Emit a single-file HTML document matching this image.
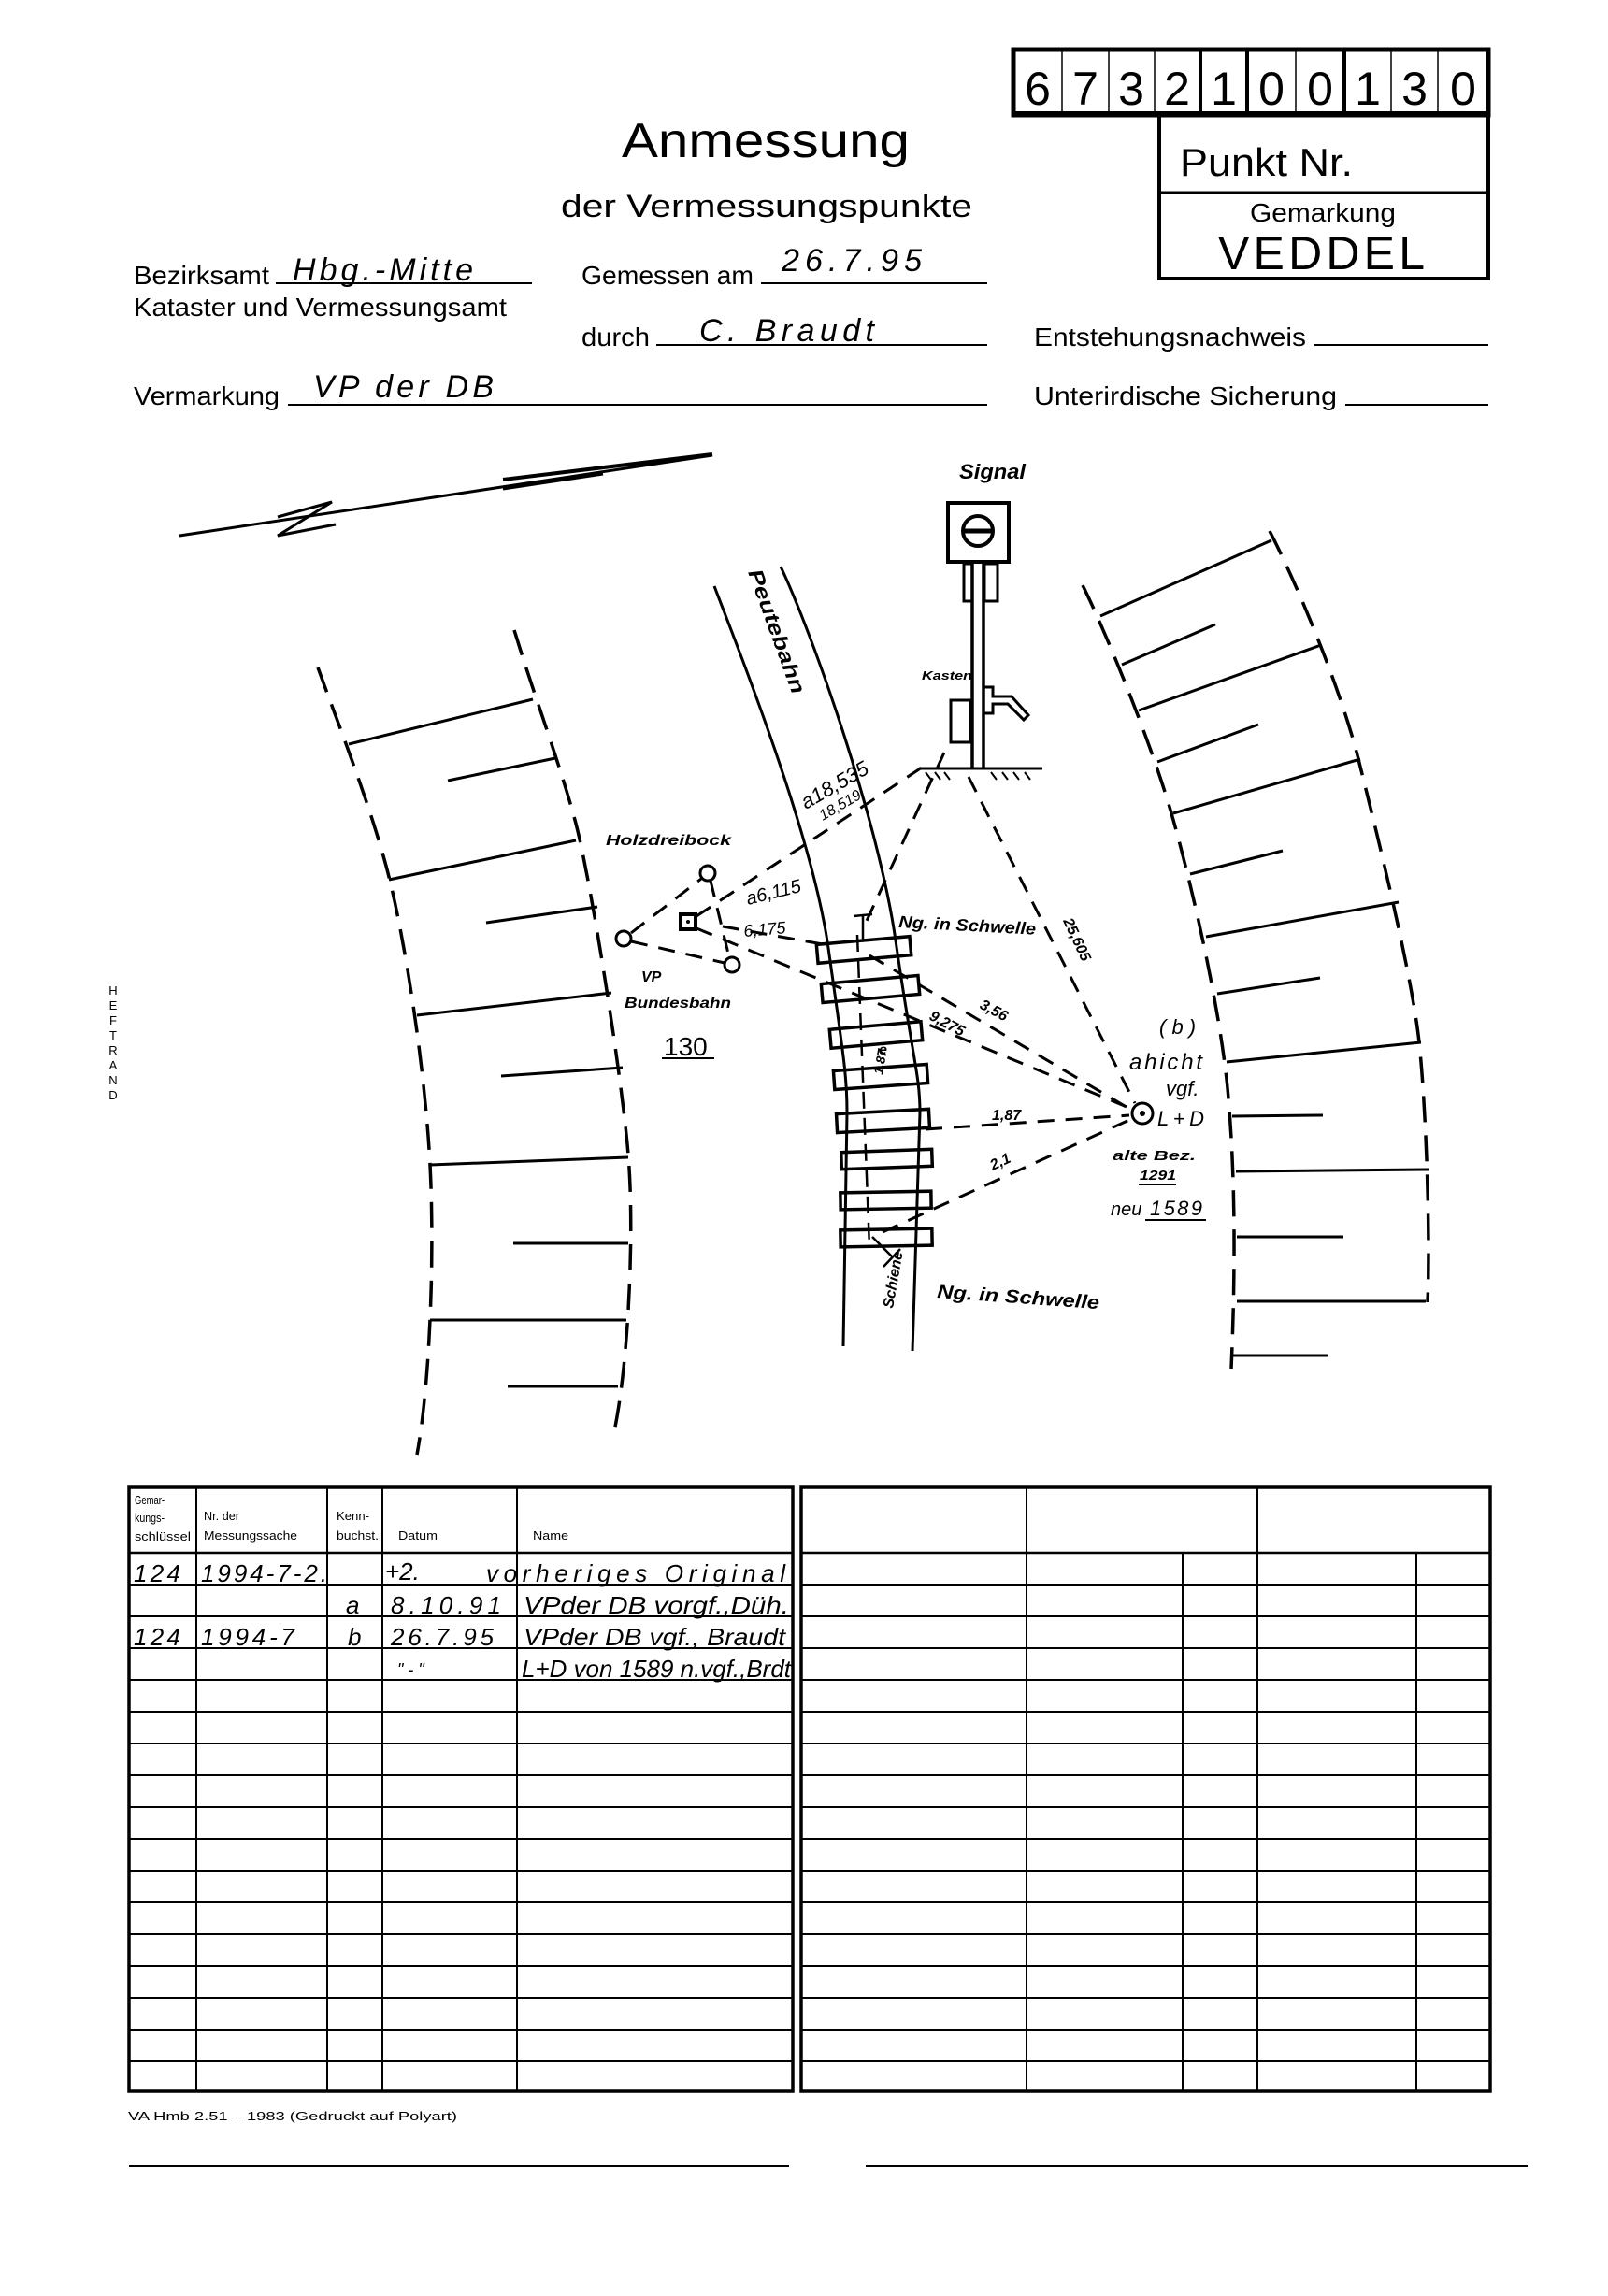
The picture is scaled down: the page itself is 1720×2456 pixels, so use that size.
<!DOCTYPE html>
<html><head><meta charset="utf-8"><style>
html,body{margin:0;padding:0;background:#fff}
svg{display:block}
.p{font-family:"Liberation Sans",sans-serif;fill:#000}
.h{font-family:"Liberation Sans",sans-serif;font-style:italic;fill:#000}
.b{font-family:"Liberation Sans",sans-serif;font-style:italic;font-weight:bold;fill:#000}
</style></head><body>
<svg width="1720" height="2456" viewBox="0 0 1720 2456" xmlns="http://www.w3.org/2000/svg">
<rect width="1720" height="2456" fill="#fff"/>
<!-- Number box -->
<g stroke="#000" fill="none">
<rect x="1084" y="53" width="508" height="70" stroke-width="5"/>
<line x1="1084" y1="122" x2="1592" y2="122" stroke-width="6"/>
<g stroke-width="1.5">
<line x1="1136" y1="55" x2="1136" y2="120"/><line x1="1186" y1="55" x2="1186" y2="120"/>
<line x1="1235" y1="55" x2="1235" y2="120"/><line x1="1386" y1="55" x2="1386" y2="120"/>
<line x1="1488" y1="55" x2="1488" y2="120"/><line x1="1538" y1="55" x2="1538" y2="120"/>
</g>
<g stroke-width="4"><line x1="1284" y1="55" x2="1284" y2="120"/><line x1="1334" y1="55" x2="1334" y2="120"/><line x1="1438" y1="55" x2="1438" y2="120"/></g>
<rect x="1240" y="123" width="352" height="175" stroke-width="4"/>
<line x1="1240" y1="206" x2="1592" y2="206" stroke-width="3"/>
</g>
<g class="p" font-size="50" text-anchor="middle">
<text x="1110" y="112">6</text><text x="1161" y="112">7</text><text x="1210" y="112">3</text><text x="1259" y="112">2</text><text x="1309" y="112">1</text><text x="1360" y="112">0</text><text x="1412" y="112">0</text><text x="1463" y="112">1</text><text x="1513" y="112">3</text><text x="1565" y="112">0</text>
</g>
<text class="p" x="1262" y="188" font-size="42" textLength="185" lengthAdjust="spacingAndGlyphs">Punkt Nr.</text>
<text class="p" x="1337" y="237" font-size="28" textLength="156" lengthAdjust="spacingAndGlyphs">Gemarkung</text>
<text class="p" x="1303" y="288" font-size="50" textLength="221" lengthAdjust="spacing">VEDDEL</text>
<text class="p" x="665" y="168" font-size="52" textLength="308" lengthAdjust="spacingAndGlyphs">Anmessung</text>
<text class="p" x="600" y="232" font-size="34" textLength="440" lengthAdjust="spacingAndGlyphs">der Vermessungspunkte</text>
<g class="p" font-size="28">
<text x="143" y="304" textLength="145" lengthAdjust="spacingAndGlyphs">Bezirksamt</text>
<text x="143" y="338" textLength="399" lengthAdjust="spacingAndGlyphs">Kataster und Vermessungsamt</text>
<text x="622" y="304" textLength="184" lengthAdjust="spacingAndGlyphs">Gemessen am</text>
<text x="622" y="370" textLength="73" lengthAdjust="spacingAndGlyphs">durch</text>
<text x="1106" y="370" textLength="291" lengthAdjust="spacingAndGlyphs">Entstehungsnachweis</text>
<text x="143" y="433" textLength="156" lengthAdjust="spacingAndGlyphs">Vermarkung</text>
<text x="1106" y="433" textLength="324" lengthAdjust="spacingAndGlyphs">Unterirdische Sicherung</text>
</g>
<g stroke="#000" stroke-width="2">
<line x1="295" y1="303" x2="569" y2="303"/><line x1="814" y1="303" x2="1056" y2="303"/>
<line x1="702" y1="369" x2="1056" y2="369"/><line x1="1406" y1="369" x2="1592" y2="369"/>
<line x1="308" y1="433" x2="1056" y2="433"/><line x1="1439" y1="433" x2="1592" y2="433"/>
</g>
<g class="h" font-size="34">
<text x="313" y="300" textLength="193" lengthAdjust="spacing">Hbg.-Mitte</text>
<text x="836" y="290" textLength="150" lengthAdjust="spacing">26.7.95</text>
<text x="748" y="365" textLength="187" lengthAdjust="spacing">C. Braudt</text>
<text x="335" y="425" textLength="193" lengthAdjust="spacing">VP der DB</text>
</g>
<!-- HEFTRAND -->
<g class="p" font-size="13" text-anchor="middle">
<text x="121" y="1064">H</text><text x="121" y="1080">E</text><text x="121" y="1096">F</text><text x="121" y="1112">T</text><text x="121" y="1128">R</text><text x="121" y="1144">A</text><text x="121" y="1160">N</text><text x="121" y="1176">D</text>
</g>
<!-- North arrow -->
<g stroke="#000" stroke-width="3" fill="none">
<line x1="192" y1="573" x2="762" y2="487"/>
<polyline points="297,553 355,537 297,573 359,561"/>
<line x1="538" y1="513" x2="762" y2="486" stroke-width="4"/>
<line x1="538" y1="523" x2="645" y2="507"/>
</g>
<!-- Hatch bands -->
<g stroke="#000" stroke-width="3.5" fill="none" stroke-dasharray="28 14">
<path d="M340,714 C360,770 400,870 418,946 S455,1150 460,1246 S460,1480 446,1556"/>
<path d="M550,674 C570,740 600,820 616,881 S665,1150 672,1235 S672,1460 657,1531"/>
<path d="M1158,626 C1180,670 1230,790 1253,870 S1305,1080 1313,1164 S1322,1350 1317,1464"/>
<path d="M1358,568 C1390,630 1435,740 1453,812 S1510,1040 1518,1115 S1530,1330 1527,1393"/>
</g>
<g stroke="#000" stroke-width="3" fill="none">
<line x1="373" y1="796" x2="570" y2="748"/><line x1="479" y1="835" x2="594" y2="811"/>
<line x1="416" y1="941" x2="616" y2="899"/><line x1="520" y1="987" x2="639" y2="970"/>
<line x1="446" y1="1086" x2="654" y2="1062"/><line x1="536" y1="1151" x2="666" y2="1142"/>
<line x1="460" y1="1246" x2="672" y2="1238"/><line x1="549" y1="1330" x2="672" y2="1330"/>
<line x1="460" y1="1412" x2="670" y2="1412"/><line x1="543" y1="1483" x2="661" y2="1483"/>
<line x1="1177" y1="659" x2="1360" y2="578"/><line x1="1200" y1="711" x2="1300" y2="668"/>
<line x1="1218" y1="760" x2="1413" y2="690"/><line x1="1238" y1="815" x2="1346" y2="775"/>
<line x1="1255" y1="870" x2="1455" y2="812"/><line x1="1273" y1="935" x2="1372" y2="910"/>
<line x1="1290" y1="1002" x2="1496" y2="965"/><line x1="1302" y1="1063" x2="1412" y2="1046"/>
<line x1="1312" y1="1136" x2="1520" y2="1115"/><line x1="1318" y1="1194" x2="1415" y2="1193"/>
<line x1="1322" y1="1253" x2="1528" y2="1251"/><line x1="1323" y1="1323" x2="1437" y2="1323"/>
<line x1="1323" y1="1392" x2="1525" y2="1392"/><line x1="1318" y1="1450" x2="1420" y2="1450"/>
</g>
<!-- Rails -->
<g stroke="#000" stroke-width="3" fill="none">
<path d="M764,627 C800,720 870,900 886,1014 S906,1150 906,1190 L902,1440"/>
<path d="M835,606 C870,680 940,880 958,1006 S984,1150 984,1190 L976,1445"/>
</g>
<!-- Sleepers -->
<g stroke="#000" stroke-width="3.5" fill="none">
<rect x="874" y="1006" width="100" height="20" transform="rotate(-5 924 1016)"/>
<rect x="879" y="1048" width="104" height="20" transform="rotate(-5 931 1058)"/>
<rect x="888" y="1097" width="98" height="20" transform="rotate(-5 937 1107)"/>
<rect x="892" y="1142" width="100" height="20" transform="rotate(-4 942 1152)"/>
<rect x="895" y="1189" width="99" height="20" transform="rotate(-3 944 1199)"/>
<rect x="900" y="1231" width="97" height="18" transform="rotate(-2 948 1240)"/>
<rect x="899" y="1275" width="97" height="18" transform="rotate(-1 948 1284)"/>
<rect x="899" y="1315" width="98" height="18" transform="rotate(-1 948 1324)"/>
</g>
<g stroke="#000" stroke-width="2.5" fill="none">
<line x1="917" y1="1000" x2="930" y2="1335" stroke-dasharray="18 10"/>
<polyline points="913,980 933,978"/><line x1="923" y1="979" x2="923" y2="1007"/>
<line x1="933" y1="1323" x2="955" y2="1345"/><line x1="945" y1="1355" x2="963" y2="1336"/>
</g>
<!-- Signal -->
<g stroke="#000" stroke-width="4" fill="none">
<rect x="1014" y="538" width="65" height="63"/>
<circle cx="1046" cy="568" r="16"/>
<line x1="1031" y1="568" x2="1061" y2="568" stroke-width="5"/>
<rect x="1031" y="603" width="9" height="40" stroke-width="3"/>
<rect x="1053" y="603" width="14" height="40" stroke-width="3"/>
<line x1="1040" y1="603" x2="1040" y2="822" stroke-width="3.5"/>
<line x1="1052" y1="603" x2="1052" y2="822" stroke-width="3.5"/>
<rect x="1017" y="749" width="21" height="45" stroke-width="3"/>
<path d="M1053,735 h9 v10 h20 l18,20 l-5,5 l-17,-17 h-16 v10 h-9" stroke-width="3"/>
<line x1="983" y1="822" x2="1115" y2="822" stroke-width="3"/>
<path d="M990,826 l6,8 M1000,826 l6,8 M1010,826 l6,8 M1060,826 l6,8 M1072,826 l6,8 M1084,826 l6,8 M1096,826 l6,8" stroke-width="2"/>
</g>
<!-- Holzdreibock -->
<g stroke="#000" stroke-width="3" fill="none">
<circle cx="757" cy="934" r="8"/><circle cx="667" cy="1004" r="8"/><circle cx="783" cy="1032" r="8"/>
<rect x="728" y="978" width="16" height="16" stroke-width="4"/>
</g>
<circle cx="736" cy="986" r="2" fill="#000"/>
<circle cx="1222" cy="1191" r="11" stroke="#000" stroke-width="3" fill="none"/>
<circle cx="1222" cy="1191" r="3" fill="#000"/>
<!-- dashed measurement lines -->
<g stroke="#000" stroke-width="3" fill="none" stroke-dasharray="18 12">
<line x1="675" y1="998" x2="750" y2="940"/>
<line x1="675" y1="1007" x2="775" y2="1030"/>
<line x1="760" y1="942" x2="780" y2="1024"/>
<line x1="745" y1="980" x2="986" y2="821"/>
<line x1="745" y1="993" x2="1210" y2="1186"/>
<line x1="773" y1="991" x2="880" y2="1010"/>
<line x1="1010" y1="805" x2="927" y2="985"/>
<line x1="1036" y1="831" x2="1214" y2="1180"/>
<line x1="930" y1="1022" x2="1208" y2="1186"/>
<line x1="990" y1="1208" x2="1208" y2="1193"/>
<line x1="944" y1="1318" x2="1208" y2="1198"/>
</g>
<!-- diagram labels -->
<g class="b">
<text x="1026" y="512" font-size="22" textLength="71" lengthAdjust="spacingAndGlyphs">Signal</text>
<text x="986" y="727" font-size="13" textLength="54" lengthAdjust="spacingAndGlyphs">Kasten</text>
<text x="648" y="904" font-size="16" textLength="134" lengthAdjust="spacingAndGlyphs">Holzdreibock</text>
<text x="686" y="1050" font-size="16">VP</text>
<text x="668" y="1078" font-size="16" textLength="114" lengthAdjust="spacingAndGlyphs">Bundesbahn</text>
<text x="961" y="992" font-size="18" textLength="147" lengthAdjust="spacingAndGlyphs" transform="rotate(3 961 992)">Ng. in Schwelle</text>
<text x="1002" y="1388" font-size="20" textLength="174" lengthAdjust="spacingAndGlyphs" transform="rotate(4 1002 1388)">Ng. in Schwelle</text>
<text x="1190" y="1241" font-size="15" textLength="89" lengthAdjust="spacingAndGlyphs">alte Bez.</text>
<text x="1219" y="1262" font-size="15" textLength="39" lengthAdjust="spacingAndGlyphs">1291</text>
<text x="0" y="0" font-size="22" textLength="140" lengthAdjust="spacingAndGlyphs" transform="translate(800,612) rotate(70)">Peutebahn</text>
<text x="0" y="0" font-size="16" transform="translate(955,1400) rotate(-80)">Schiene</text>
<text x="0" y="0" font-size="16" transform="translate(1137,985) rotate(65)">25,605</text>
<text x="0" y="0" font-size="16" transform="translate(1047,1078) rotate(28)">3,56</text>
<text x="0" y="0" font-size="16" transform="translate(993,1090) rotate(28)">9,275</text>
<text x="1061" y="1198" font-size="16">1,87</text>
<text x="0" y="0" font-size="16" transform="translate(1062,1252) rotate(-25)">2,1</text>
<text x="0" y="0" font-size="14" transform="translate(944,1150) rotate(-80)">1,87</text>
<text x="940" y="1128" font-size="16">e</text>
</g>
<g class="h">
<text x="0" y="0" font-size="22" transform="translate(862,866) rotate(-30)">a18,535</text>
<text x="0" y="0" font-size="16" transform="translate(880,878) rotate(-30)">18,519</text>
<text x="0" y="0" font-size="20" transform="translate(800,968) rotate(-14)">a6,115</text>
<text x="0" y="0" font-size="18" transform="translate(796,1002) rotate(-5)">6,175</text>
<text x="710" y="1129" font-size="28" font-style="normal">130</text>
<text x="1240" y="1106" font-size="22">( b )</text>
<text x="1208" y="1144" font-size="24" textLength="78" lengthAdjust="spacing">ahicht</text>
<text x="1247" y="1172" font-size="22">vgf.</text>
<text x="1238" y="1204" font-size="22" textLength="50" lengthAdjust="spacing">L+D</text>
<text x="1188" y="1300" font-size="20">neu</text>
<text x="1230" y="1300" font-size="22" textLength="56" lengthAdjust="spacing">1589</text>
</g>
<g stroke="#000" stroke-width="2">
<line x1="708" y1="1132" x2="764" y2="1132"/>
<line x1="1218" y1="1267" x2="1258" y2="1267"/>
<line x1="1225" y1="1305" x2="1290" y2="1305"/>
</g>
<!-- Table -->
<g stroke="#000" fill="none">
<rect x="138" y="1591" width="710" height="646" stroke-width="3.5"/>
<rect x="857" y="1591" width="737" height="646" stroke-width="3.5"/>
<g stroke-width="2">
<line x1="210" y1="1591" x2="210" y2="2237"/><line x1="350" y1="1591" x2="350" y2="2237"/>
<line x1="409" y1="1591" x2="409" y2="2237"/><line x1="553" y1="1591" x2="553" y2="2237"/>
<line x1="1098" y1="1591" x2="1098" y2="2237"/><line x1="1345" y1="1591" x2="1345" y2="2237"/>
<line x1="1265" y1="1661" x2="1265" y2="2237"/><line x1="1515" y1="1661" x2="1515" y2="2237"/>
</g>
<g stroke-width="2.5">
<line x1="138" y1="1661" x2="848" y2="1661"/><line x1="857" y1="1661" x2="1594" y2="1661"/>
</g>
<g stroke-width="2">
<path d="M138,1695H848M138,1729H848M138,1763H848M138,1797H848M138,1831H848M138,1865H848M138,1899H848M138,1933H848M138,1967H848M138,2001H848M138,2035H848M138,2069H848M138,2103H848M138,2137H848M138,2171H848M138,2205H848"/>
<path d="M857,1695H1594M857,1729H1594M857,1763H1594M857,1797H1594M857,1831H1594M857,1865H1594M857,1899H1594M857,1933H1594M857,1967H1594M857,2001H1594M857,2035H1594M857,2069H1594M857,2103H1594M857,2137H1594M857,2171H1594M857,2205H1594"/>
</g>
</g>
<g class="p" font-size="13">
<text x="144" y="1609" textLength="32" lengthAdjust="spacingAndGlyphs">Gemar-</text>
<text x="144" y="1628" textLength="32" lengthAdjust="spacingAndGlyphs">kungs-</text>
<text x="144" y="1648" textLength="60" lengthAdjust="spacingAndGlyphs">schlüssel</text>
<text x="218" y="1626" textLength="38" lengthAdjust="spacingAndGlyphs">Nr. der</text>
<text x="218" y="1647" textLength="100" lengthAdjust="spacingAndGlyphs">Messungssache</text>
<text x="360" y="1626" textLength="35" lengthAdjust="spacingAndGlyphs">Kenn-</text>
<text x="360" y="1647" textLength="45" lengthAdjust="spacingAndGlyphs">buchst.</text>
<text x="426" y="1647" textLength="42" lengthAdjust="spacingAndGlyphs">Datum</text>
<text x="570" y="1647" textLength="38" lengthAdjust="spacingAndGlyphs">Name</text>
<text x="137" y="2268" textLength="352" lengthAdjust="spacingAndGlyphs">VA Hmb 2.51 – 1983 (Gedruckt auf Polyart)</text>
</g>
<g class="h" font-size="26">
<text x="143" y="1692" textLength="50" lengthAdjust="spacing">124</text>
<text x="215" y="1692" textLength="135" lengthAdjust="spacing">1994-7-2.</text>
<text x="412" y="1690">+2.</text>
<text x="520" y="1692" textLength="320" lengthAdjust="spacing">vorheriges Original</text>
<text x="370" y="1726">a</text>
<text x="418" y="1726" textLength="118" lengthAdjust="spacing">8.10.91</text>
<text x="560" y="1726" textLength="284" lengthAdjust="spacingAndGlyphs">VPder DB vorgf.,Düh.</text>
<text x="143" y="1760" textLength="50" lengthAdjust="spacing">124</text>
<text x="215" y="1760" textLength="100" lengthAdjust="spacing">1994-7</text>
<text x="372" y="1760">b</text>
<text x="418" y="1760" textLength="110" lengthAdjust="spacing">26.7.95</text>
<text x="560" y="1760" textLength="280" lengthAdjust="spacingAndGlyphs">VPder DB vgf., Braudt</text>
<text x="425" y="1792" font-size="18">"   -   "</text>
<text x="558" y="1794" textLength="288" lengthAdjust="spacingAndGlyphs">L+D von 1589 n.vgf.,Brdt</text>
</g>
<g stroke="#000" stroke-width="2">
<line x1="138" y1="2317" x2="844" y2="2317"/><line x1="926" y1="2317" x2="1634" y2="2317"/>
</g>
</svg>
</body></html>
